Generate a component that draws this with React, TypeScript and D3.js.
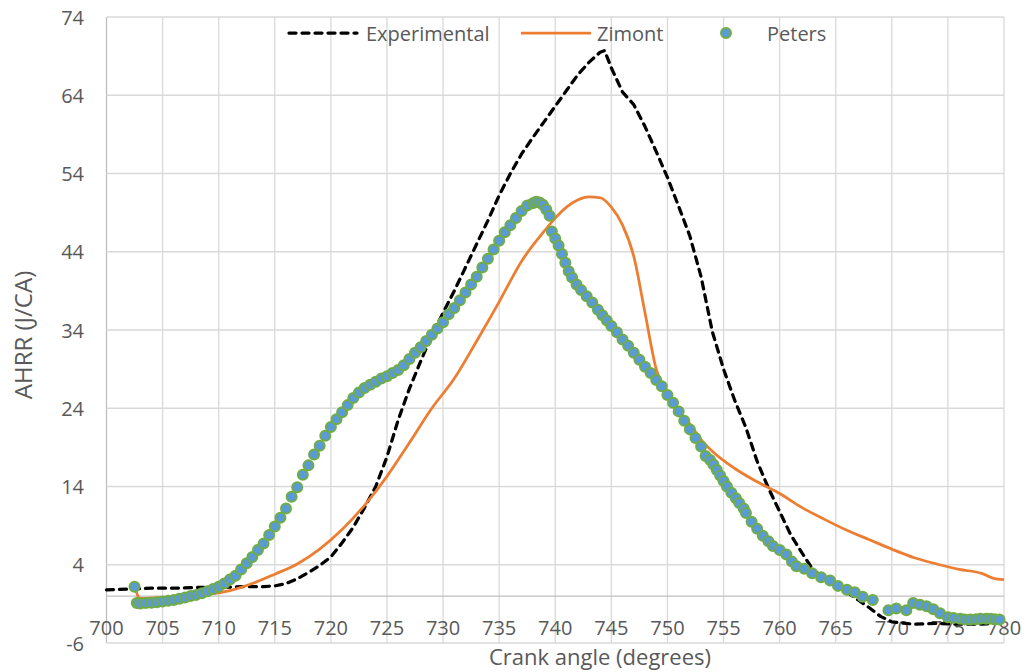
import React from 'react';
import * as d3 from 'd3';

const X_TICKS = [700, 705, 710, 715, 720, 725, 730, 735, 740, 745, 750, 755, 760, 765, 770, 775, 780];
const Y_TICKS = [-6, 4, 14, 24, 34, 44, 54, 64, 74];

// Experimental (dashed black)
const expAngle = [700, 702, 704, 706, 708, 710, 712, 714, 715, 716, 717, 718, 719, 720, 721, 722, 723, 724, 725, 726, 727, 728, 729, 730, 731, 732, 733, 734, 735, 736, 737, 738, 739, 740, 741, 742, 743, 744, 744.4, 745, 746, 747, 748, 749, 750, 751, 752, 753, 754, 755, 756, 757, 758, 759, 760, 761, 762, 763, 764, 765, 766, 767, 768, 769, 770, 772, 774, 776, 778, 780];
const expAhrr = [0.8, 0.9, 1.0, 1.0, 1.1, 1.1, 1.2, 1.2, 1.3, 1.6, 2.2, 3.0, 3.9, 5.0, 6.8, 8.8, 11.3, 14.0, 17.8, 22.5, 26.5, 30.0, 33.3, 36.2, 39.0, 42.0, 45.0, 48.0, 51.2, 54.0, 56.5, 58.6, 60.6, 62.6, 64.6, 66.6, 68.2, 69.5, 69.7, 67.5, 64.4, 62.8, 60.0, 56.8, 53.5, 49.8, 46.0, 40.8, 33.8, 29.0, 25.0, 21.5, 17.2, 13.8, 10.8, 7.8, 5.5, 3.3, 2.3, 1.5, 0.5, -0.5, -1.5, -2.6, -3.3, -3.6, -3.5, -3.6, -3.6, -3.4];

// Zimont (orange)
const zimAngle = [702.5, 703, 705, 707, 709, 711, 713, 715, 717, 719, 721, 723, 725, 727, 729, 731, 733, 735, 737, 739, 740, 741, 742, 743, 744, 745, 746, 747, 748, 749, 750, 751, 752, 753, 754, 756, 758, 760, 762, 764, 766, 768, 770, 772, 774, 776, 778, 779, 780];
const zimAhrr = [1.2, -0.3, -0.2, 0.0, 0.2, 0.7, 1.6, 2.8, 4.1, 6.0, 8.5, 11.6, 15.3, 19.6, 24.0, 27.8, 32.6, 37.6, 42.8, 46.6, 48.3, 49.7, 50.6, 51.0, 50.9, 49.7, 47.4, 43.4, 36.2, 29.0, 25.8, 23.6, 22.0, 20.0, 18.5, 16.3, 14.6, 13.1, 11.3, 9.8, 8.4, 7.2, 6.0, 4.9, 4.1, 3.4, 2.9, 2.3, 2.1];

// Peters (markers)
const petAngle = [702.5, 702.7, 703, 703.5, 704, 704.5, 705, 705.5, 706, 706.5, 707, 707.5, 708, 708.5, 709, 709.5, 710, 710.5, 711, 711.5, 712, 712.5, 713, 713.5, 714, 714.5, 715, 715.5, 716, 716.5, 717, 717.5, 718, 718.5, 719, 719.5, 720, 720.5, 721, 721.5, 722, 722.5, 723, 723.5, 724, 724.5, 725, 725.5, 726, 726.5, 727, 727.5, 728, 728.5, 729, 729.5, 730, 730.5, 731, 731.5, 732, 732.5, 733, 733.5, 734, 734.5, 735, 735.5, 736, 736.5, 737, 737.5, 738, 738.3, 738.6, 738.9, 739.2, 739.5, 739.7, 740, 740.3, 740.6, 740.9, 741.2, 741.5, 741.9, 742.3, 742.8, 743.3, 743.8, 744.2, 744.6, 745, 745.5, 746, 746.5, 747, 747.5, 748, 748.5, 749, 749.5, 750, 750.5, 751, 751.5, 752, 752.5, 753, 753.4, 753.8, 754.1, 754.4, 754.7, 755, 755.3, 755.7, 756.1, 756.4, 756.8, 757, 757.5, 758, 758.5, 759, 759.4, 760, 760.6, 761.1, 761.5, 762.2, 762.9, 763.7, 764.5, 765.2, 766, 766.7, 767.4, 768.3, 769.7, 770.4, 771.3, 771.9, 772.5, 773.1, 773.7, 774.3, 775, 775.5, 776.1, 776.5, 777, 777.5, 777.9, 778.4, 778.8, 779.2, 779.6];
const petAhrr = [1.2, -0.9, -0.95, -0.9, -0.85, -0.8, -0.7, -0.6, -0.5, -0.35, -0.2, 0, 0.15, 0.35, 0.6, 0.9, 1.2, 1.6, 2.1, 2.6, 3.4, 4.2, 5.0, 5.9, 6.7, 7.8, 8.9, 10.0, 11.2, 12.7, 13.9, 15.5, 16.7, 18.1, 19.2, 20.5, 21.6, 22.6, 23.5, 24.4, 25.3, 26.0, 26.6, 27.0, 27.4, 27.8, 28.1, 28.5, 28.9, 29.5, 30.3, 31.1, 31.8, 32.6, 33.4, 34.2, 35.0, 36.0, 36.8, 37.8, 38.8, 39.8, 40.8, 42.0, 43.1, 44.3, 45.4, 46.5, 47.4, 48.3, 49.2, 49.9, 50.2, 50.4, 50.3, 50.0, 49.4, 48.6, 46.6, 45.7, 44.8, 43.7, 42.6, 41.5, 40.7, 39.8, 39.1, 38.3, 37.5, 36.6, 35.9, 35.2, 34.5, 33.7, 32.8, 32.0, 31.1, 30.2, 29.3, 28.5, 27.6, 26.8, 25.7, 24.7, 23.6, 22.4, 21.3, 20.2, 19.1, 17.9, 17.4, 16.8, 16.1, 15.4, 14.7, 14.0, 13.2, 12.5, 11.9, 11.2, 10.6, 9.5, 8.6, 7.7, 7.0, 6.4, 5.9, 5.3, 4.4, 3.8, 3.5, 2.9, 2.4, 2.0, 1.3, 0.8, 0.5, -0.1, -0.5, -1.8, -1.6, -1.8, -0.9, -1.1, -1.3, -1.7, -2.2, -2.7, -2.8, -2.9, -3.0, -3.0, -2.95, -2.9, -2.9, -2.9, -2.95, -3.0];

const FONT = "'Open Sans', sans-serif";
const TEXT = '#595959';
const GRID = '#d9d9d9';
const AXIS = '#bfbfbf';
const ORANGE = '#ed7d31';
const BLUE = '#5b9bd5';
const GREEN = '#70ad47';

export default function App() {
  const W = 1032;
  const H = 672;
  const left = 106.5, right = 1004, top = 17, bottom = 643;

  const x = d3.scaleLinear().domain([700, 780]).range([left, right]);
  const y = d3.scaleLinear().domain([-6, 74]).range([bottom, top]);

  const zip = (a: number[], b: number[]) => a.map((v, i) => [v, b[i]] as [number, number]);
  const exp = zip(expAngle, expAhrr);
  const zim = zip(zimAngle, zimAhrr);
  const pet = zip(petAngle, petAhrr);

  const straight = d3.line<[number, number]>().x(d => x(d[0])).y(d => y(d[1]));
  const smooth = d3.line<[number, number]>().x(d => x(d[0])).y(d => y(d[1])).curve(d3.curveMonotoneX);

  return (
    <svg width={W} height={H} style={{ position: 'absolute', left: 0, top: 0, background: '#fff' }} fontFamily={FONT}>
      <rect width={W} height={H} fill="#fff" />
      {/* gridlines */}
      {X_TICKS.map(t => (
        <line key={'gx' + t} x1={x(t)} x2={x(t)} y1={top} y2={bottom} stroke={t === 700 ? AXIS : GRID} strokeWidth={1.3} />
      ))}
      {Y_TICKS.map(t => (
        <line key={'gy' + t} x1={left} x2={right} y1={y(t)} y2={y(t)} stroke={GRID} strokeWidth={1.3} />
      ))}
      <line x1={left} x2={right} y1={y(0)} y2={y(0)} stroke={AXIS} strokeWidth={1.3} />

      {/* tick labels */}
      {Y_TICKS.map(t => (
        <text key={'ty' + t} x={84} y={y(t)} textAnchor="end" dominantBaseline="central" fontSize={20} fill={TEXT}>{t}</text>
      ))}
      {X_TICKS.map(t => (
        <text key={'tx' + t} x={x(t)} y={627} textAnchor="middle" dominantBaseline="central" fontSize={20} fill={TEXT}>{t}</text>
      ))}

      {/* axis titles */}
      <text x={600} y={656} textAnchor="middle" dominantBaseline="central" fontSize={22} fill={TEXT}>Crank angle (degrees)</text>
      <text transform={`translate(22,335) rotate(-90)`} textAnchor="middle" dominantBaseline="central" fontSize={24} fill={TEXT}>AHRR (J/CA)</text>

      {/* series */}
      <path d={straight(exp) || ''} fill="none" stroke="#000" strokeWidth={3.25} strokeDasharray="7,6" strokeLinecap="round" strokeLinejoin="round" />
      <path d={smooth(zim) || ''} fill="none" stroke={ORANGE} strokeWidth={2.75} strokeLinejoin="round" />
      {pet.map((d, i) => (
        <circle key={'p' + i} cx={x(d[0])} cy={y(d[1])} r={5} fill={BLUE} stroke={GREEN} strokeWidth={2} />
      ))}

      {/* legend */}
      <line x1={289} x2={357} y1={33} y2={33} stroke="#000" strokeWidth={3.25} strokeDasharray="7,6" strokeLinecap="round" />
      <text x={366} y={33} dominantBaseline="central" fontSize={20} fill={TEXT}>Experimental</text>
      <line x1={521} x2={591} y1={33} y2={33} stroke={ORANGE} strokeWidth={2.75} />
      <text x={597} y={33} dominantBaseline="central" fontSize={20} fill={TEXT}>Zimont</text>
      <circle cx={726} cy={33} r={5} fill={BLUE} stroke={GREEN} strokeWidth={2} />
      <text x={767} y={33} dominantBaseline="central" fontSize={20} fill={TEXT}>Peters</text>
    </svg>
  );
}
